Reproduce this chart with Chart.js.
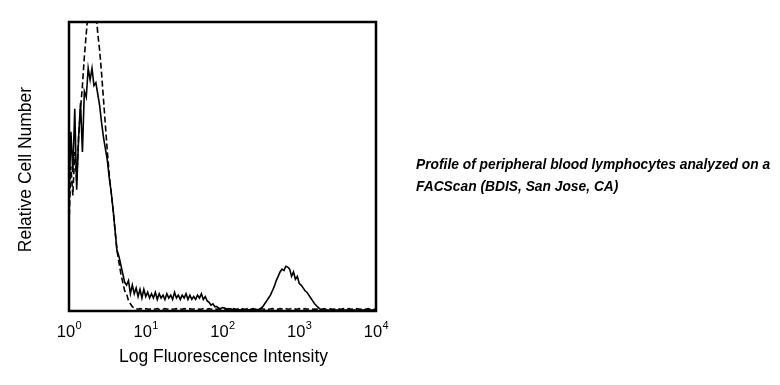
<!DOCTYPE html>
<html>
<head>
<meta charset="utf-8">
<script src="https://cdn.jsdelivr.net/npm/chart.js@4.4.0/dist/chart.umd.min.js"></script>
<style>
  html, body { margin: 0; padding: 0; background: #fff; }
  #wrap { position: relative; width: 780px; height: 385px; }
  #note {
    position: absolute; left: 416px; top: 154px;
    font: italic bold 13.8px "Liberation Sans", Arial, sans-serif;
    line-height: 22px; color: #000; white-space: nowrap;
  }
</style>
</head>
<body>
<div id="wrap">
  <canvas id="facs" width="780" height="385"></canvas>
  <div id="note">Profile of peripheral blood lymphocytes analyzed on a<br>FACScan (BDIS, San Jose, CA)</div>
</div>
<script>
// histogram channels: 40 channels per decade, 4 decades
var channelsPerDecade = 40;
var decadeTicks = [0, 1, 2, 3, 4];

// stained sample (solid)
var solidCounts = [
  38, 62, 48, 70, 42, 60, 72, 55, 76, 74,
  84, 80, 84, 78, 79, 75, 71, 65, 60, 56,
  52, 46, 41, 35, 28, 21, 19, 16, 13, 10,
  9, 10.5, 6, 9, 6, 8, 5, 7.5, 4.5, 7.5,
  5, 6.5, 4.5, 6, 4.5, 6.5, 4, 6, 4.5, 5.5,
  4, 6, 4.5, 5.5, 4, 6.5, 4.5, 5.5, 4, 5.5,
  4.5, 6, 4, 5.5, 4, 5, 4, 5.5, 4.5, 6,
  4, 5, 3.5, 3, 2, 2.5, 1.5, 1.5, 1, 0.8,
  1.2, 1, 0.8, 0.6, 0.8, 0.5, 0.6, 0.4, 0.5, 0.4,
  0.5, 0.4, 0.4, 0.5, 0.4, 0.4, 0.5, 0.4, 0.5, 0.5,
  1, 1.5, 2.5, 3.5, 4.5, 5.5, 7, 8.5, 10.5, 12,
  13.5, 14.5, 14, 15.5, 15.2, 14.5, 12, 13.5, 11, 12,
  9.5, 9, 8, 7, 6.5, 5.5, 4.5, 3.5, 2.5, 1.8,
  1.2, 0.6, 0.4, 0.3, 0.3, 0.3, 0.3, 0.3, 0.3, 0.3,
  0.3, 0.3, 0.3, 0.3, 0.3, 0.3, 0.3, 0.3, 0.3, 0.3,
  0.3, 0.3, 0.3, 0.3, 0.3, 0.3, 0.3, 0.3, 0.3, 0.3,
  0.3
];

// control (dashed)
var controlCounts = [
  30, 50, 40, 55, 45, 60, 70, 78, 88, 96,
  104, 110, 108, 112, 104, 96, 90, 82, 73, 64,
  55, 47, 41, 35, 28, 21, 17, 13, 10, 7,
  6, 3.5, 2.5, 1.5, 1, 0.8, 0.6, 0.8, 0.7, 0.6,
  0.8, 0.7, 0.6, 0.8, 0.6, 0.7, 0.8, 0.6, 0.7, 0.6,
  0.8, 0.7, 0.6, 0.8, 0.6, 0.7, 0.8, 0.6, 0.7, 0.6,
  0.8, 0.7, 0.6, 0.8, 0.6, 0.7, 0.8, 0.6, 0.7, 0.6,
  0.8, 0.7, 0.6, 0.8, 0.6, 0.7, 0.8, 0.6, 0.7, 0.6,
  0.8, 0.7, 0.6, 0.8, 0.6, 0.7, 0.8, 0.6, 0.7, 0.6,
  0.8, 0.7, 0.6, 0.8, 0.6, 0.7, 0.8, 0.6, 0.7, 0.6,
  0.8, 0.7, 0.6, 0.8, 0.6, 0.7, 0.8, 0.6, 0.7, 0.6,
  0.8, 0.7, 0.6, 0.8, 0.6, 0.7, 0.8, 0.6, 0.7, 0.6,
  0.8, 0.7, 0.6, 0.8, 0.6, 0.7, 0.8, 0.6, 0.7, 0.6,
  0.8, 0.7, 0.6, 0.8, 0.6, 0.7, 0.8, 0.6, 0.7, 0.6,
  0.8, 0.7, 0.6, 0.8, 0.6, 0.7, 0.8, 0.6, 0.7, 0.6,
  0.8, 0.7, 0.6, 0.8, 0.6, 0.7, 0.8, 0.6, 0.7, 0.6,
  0.6
];

function toPoints(counts) {
  return counts.map(function(v, i) { return { x: i / channelsPerDecade, y: v }; });
}

// frame, decade labels and axis titles
var facsDecor = {
  id: 'facsDecor',
  afterDraw: function(chart) {
    var c = chart.ctx, a = chart.chartArea, xs = chart.scales.x;
    var baseFont = '16.5px "Liberation Sans", Arial, sans-serif';
    var expFont = '11px "Liberation Sans", Arial, sans-serif';
    c.save();
    c.strokeStyle = '#000';
    c.lineWidth = 2.5;
    c.strokeRect(a.left, a.top, a.right - a.left, a.bottom - a.top);

    c.fillStyle = '#000';
    c.textBaseline = 'alphabetic';
    c.textAlign = 'left';
    decadeTicks.forEach(function(d) {
      var px = xs.getPixelForValue(d);
      c.font = baseFont;
      var wBase = c.measureText('10').width;
      c.font = expFont;
      var wExp = c.measureText(String(d)).width;
      var x0 = px - (wBase + wExp) / 2;
      c.font = baseFont;
      c.fillText('10', x0, 337);
      c.font = expFont;
      c.fillText(String(d), x0 + wBase + 0.5, 329);
    });

    c.font = '17.5px "Liberation Sans", Arial, sans-serif';
    c.textAlign = 'center';
    c.fillText('Log Fluorescence Intensity', (a.left + a.right) / 2 + 1, 362);

    c.translate(31, (a.top + a.bottom) / 2 + 3);
    c.rotate(-Math.PI / 2);
    c.fillText('Relative Cell Number', 0, 0);
    c.restore();
  }
};

var ctx = document.getElementById('facs').getContext('2d');
var facsChart = new Chart(ctx, {
  type: 'line',
  data: {
    datasets: [
      {
        label: 'Stained',
        data: toPoints(solidCounts),
        borderColor: '#000',
        borderWidth: 1.6,
        pointRadius: 0,
        tension: 0,
        fill: false
      },
      {
        label: 'Control',
        data: toPoints(controlCounts),
        borderColor: '#000',
        borderWidth: 1.6,
        borderDash: [6, 3],
        pointRadius: 0,
        tension: 0,
        fill: false
      }
    ]
  },
  options: {
    responsive: false,
    animation: false,
    events: [],
    layout: { padding: { left: 69, top: 22, right: 404, bottom: 74 } },
    plugins: { legend: { display: false }, tooltip: { enabled: false } },
    scales: {
      x: { type: 'linear', min: 0, max: 4, display: false },
      y: { type: 'linear', min: 0, max: 100, display: false }
    }
  },
  plugins: [facsDecor]
});
</script>
</body>
</html>
